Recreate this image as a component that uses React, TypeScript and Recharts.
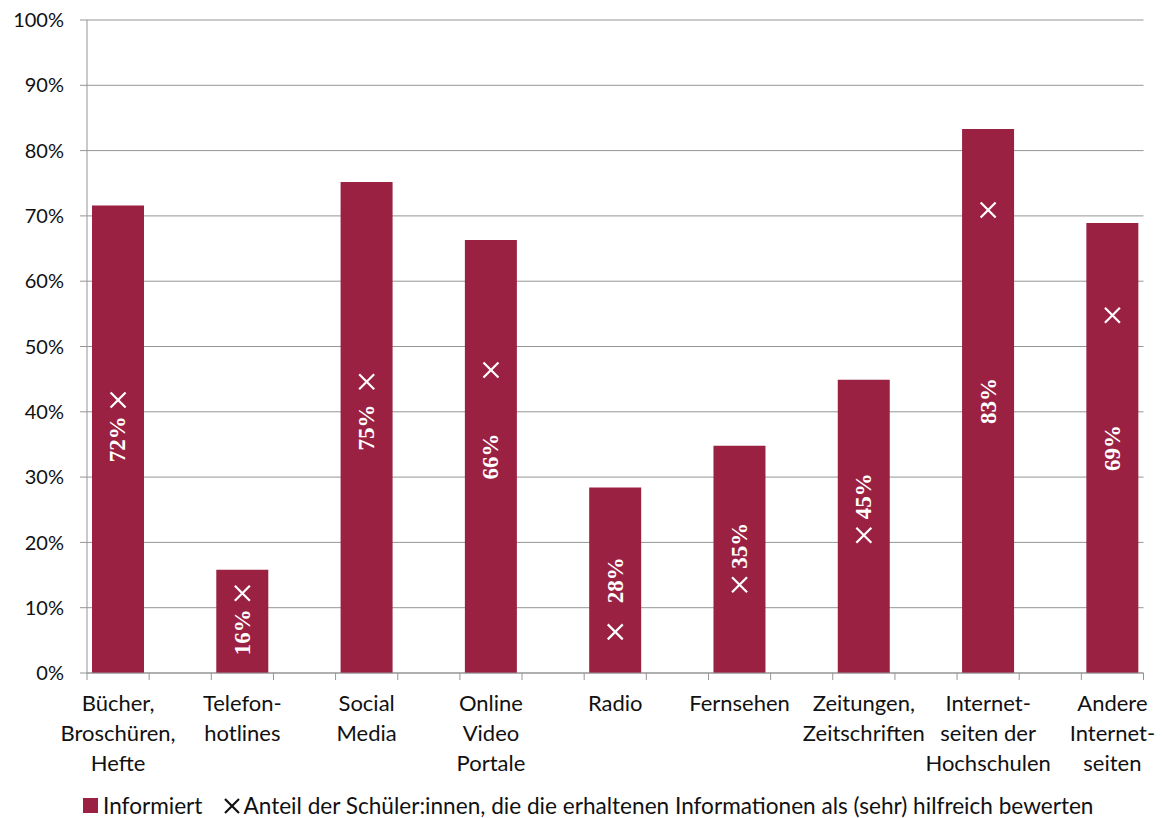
import React from 'react';
import { ComposedChart, Bar, Line, XAxis, YAxis, CartesianGrid, Legend, LabelList } from 'recharts';

const categories = [
  'Bücher,\nBroschüren,\nHefte',
  'Telefon-\nhotlines',
  'Social\nMedia',
  'Online\nVideo\nPortale',
  'Radio',
  'Fernsehen',
  'Zeitungen,\nZeitschriften',
  'Internet-\nseiten der\nHochschulen',
  'Andere\nInternet-\nseiten',
];
const informiert = [71.6, 15.8, 75.2, 66.3, 28.4, 34.8, 44.9, 83.3, 68.9];
const hilfreich = [41.8, 12.2, 44.6, 46.4, 6.3, 13.5, 21.1, 70.9, 54.8];
const yTicks = [0, 10, 20, 30, 40, 50, 60, 70, 80, 90, 100];
const seriesNames = [
  'Informiert',
  'Anteil der Schüler:innen, die die erhaltenen Informationen als (sehr) hilfreich bewerten',
];

const W = 1164;
const H = 818;
const PLOT_LEFT = 87;
const PLOT_RIGHT = 1143.5;
const BAR_COLOR = '#9B2143';
const GRID = '#959595';
const FONT = 'Lato, "Open Sans", sans-serif';
const LABEL_FONT = '"Liberation Serif", "DejaVu Serif", serif';

type Row = { key: string; label: string; informiert: number | null; hilfreich: number | null };
const data: Row[] = [];
categories.forEach((c, i) => {
  data.push({ key: `c${i}`, label: c, informiert: informiert[i], hilfreich: hilfreich[i] });
  if (i < categories.length - 1) data.push({ key: `s${i}`, label: '', informiert: null, hilfreich: null });
});
const BAND = (PLOT_RIGHT - PLOT_LEFT) / data.length;

const XTick = (props: any) => {
  const { x, y, payload } = props;
  const idx = data.findIndex((d) => d.key === payload.value);
  const row = data[idx];
  const lines = row && row.label ? row.label.split('\n') : [];
  return (
    <g>
      <line x1={x - BAND / 2} x2={x - BAND / 2} y1={y} y2={y + 7} stroke={GRID} strokeWidth={1} />
      {idx === data.length - 1 && (
        <line x1={x + BAND / 2} x2={x + BAND / 2} y1={y} y2={y + 7} stroke={GRID} strokeWidth={1} />
      )}
      {lines.length > 0 && (
        <text x={x} y={y + 38} textAnchor="middle" style={{ fontFamily: FONT, fontSize: 22 }} fill="#111">
          {lines.map((l, i) => (
            <tspan key={i} x={x} dy={i === 0 ? 0 : 30}>
              {l}
            </tspan>
          ))}
        </text>
      )}
    </g>
  );
};

const BarLabel = (props: any) => {
  const { x, y, width, height, value } = props;
  if (value == null || x == null) return null;
  const v = Number(value);
  const row = data.find((d) => d.informiert === v);
  const cx = Number(x) + Number(width) / 2;
  const base = Number(y) + Number(height);
  let cy = Number(y) + Number(height) / 2;
  const half = 25;
  const mHalf = 8;
  const gap = 6;
  if (row && row.hilfreich != null) {
    const my = base - (Number(height) * row.hilfreich) / v;
    const need = half + mHalf + gap;
    if (Math.abs(my - cy) < need) {
      cy = my > cy ? my - need : my + need;
    }
  }
  return (
    <text
      x={cx}
      y={cy}
      textAnchor="middle"
      dominantBaseline="central"
      fill="#fff"
      style={{ fontFamily: LABEL_FONT, fontSize: 23, fontWeight: 700 }}
      transform={`rotate(-90, ${cx}, ${cy})`}
    >
      {`${Math.round(v)}%`}
    </text>
  );
};

const renderX = (props: any) => {
  const { cx, cy, index } = props;
  if (cx == null || cy == null || props.value == null) return <g key={`x${index}`} />;
  const s = 7.5;
  return (
    <g key={`x${index}`}>
      <line x1={cx - s} y1={cy - s} x2={cx + s} y2={cy + s} stroke="#fff" strokeWidth={2.2} />
      <line x1={cx - s} y1={cy + s} x2={cx + s} y2={cy - s} stroke="#fff" strokeWidth={2.2} />
    </g>
  );
};

const renderLegend = () => (
  <div
    style={{
      width: W,
      height: 45,
      display: 'flex',
      alignItems: 'center',
      justifyContent: 'flex-start',
      paddingLeft: 83,
      paddingTop: 20,
      boxSizing: 'border-box',
      fontFamily: FONT,
      fontSize: 22.6,
      color: '#111',
      whiteSpace: 'nowrap',
    }}
  >
    <span style={{ display: 'inline-block', width: 15, height: 15, background: BAR_COLOR, marginRight: 5 }} />
    <span>{seriesNames[0]}</span>
    <svg width={16} height={16} style={{ marginLeft: 22, marginRight: 3 }}>
      <line x1={1} y1={1} x2={15} y2={15} stroke="#111" strokeWidth={2.2} />
      <line x1={1} y1={15} x2={15} y2={1} stroke="#111" strokeWidth={2.2} />
    </svg>
    <span>{seriesNames[1]}</span>
  </div>
);

export default function App() {
  return (
    <div style={{ position: 'absolute', left: 0, top: 0, width: W, height: H, background: '#fff' }}>
      <ComposedChart
        width={W}
        height={H}
        data={data}
        margin={{ top: 20, right: W - PLOT_RIGHT, bottom: 0, left: 0 }}
        barCategoryGap={5}
      >
        <CartesianGrid vertical={false} stroke={GRID} strokeWidth={1} />
        <XAxis
          dataKey="key"
          type="category"
          height={100}
          interval={0}
          tickSize={0}
          tickMargin={0}
          tickLine={false}
          axisLine={{ stroke: GRID }}
          tick={<XTick />}
        />
        <YAxis
          width={PLOT_LEFT}
          domain={[0, 100]}
          ticks={yTicks}
          tickFormatter={(v: number) => `${v}%`}
          tickSize={7}
          tickMargin={16}
          axisLine={{ stroke: GRID }}
          tickLine={{ stroke: GRID }}
          tick={{ fontFamily: FONT, fontSize: 20, fill: '#111' }}
          interval={0}
        />
        <Legend verticalAlign="bottom" content={renderLegend} wrapperStyle={{ left: 0, bottom: 0, width: W }} />
        <Bar dataKey="informiert" fill={BAR_COLOR} barSize={52} isAnimationActive={false}>
          <LabelList dataKey="informiert" content={<BarLabel />} />
        </Bar>
        <Line
          dataKey="hilfreich"
          stroke="none"
          dot={renderX}
          activeDot={false}
          isAnimationActive={false}
          legendType="none"
        />
      </ComposedChart>
    </div>
  );
}
